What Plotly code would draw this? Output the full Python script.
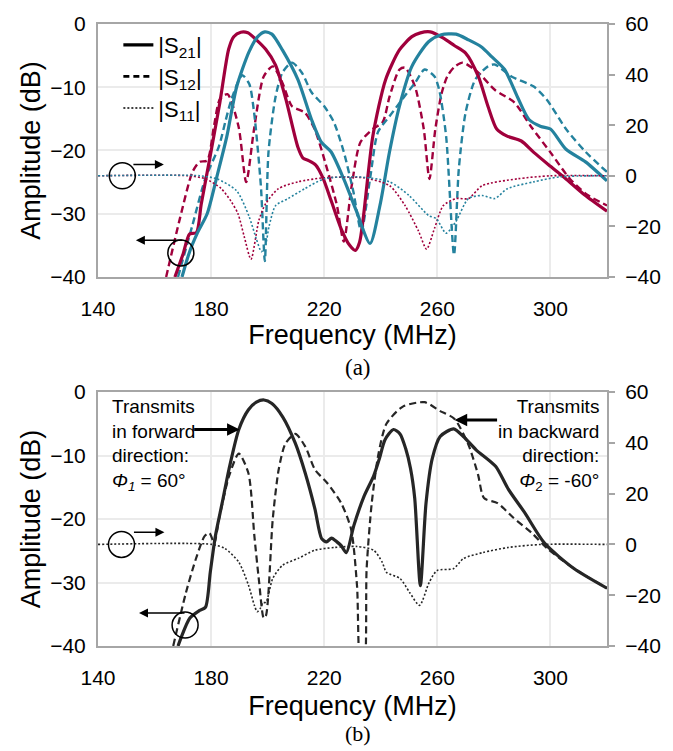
import plotly.graph_objects as go

# ---------------- (a) top panel ----------------
# red design (|S21| solid, |S12| dashed, |S11| dotted)
a_red_s21_f = [167.2, 170.0, 172.4, 174.8, 176.5, 179.3, 183.1, 186.2, 188.0, 190.5, 193.0, 196.0, 199.3, 202.8, 206.5, 210.7, 212.5, 214.5, 217.0, 219.5, 222.5, 225.9, 229.0, 231.0, 232.5, 233.8, 237.2, 241.7, 246.6, 251.0, 254.0, 257.5, 262.0, 266.0, 270.0, 274.5, 277.9, 281.0, 284.5, 289.7, 294.1, 300.0, 305.5, 312.0, 320.0]
a_red_s21_db = [-40, -36.5, -33.2, -33.0, -28.5, -21.8, -12.4, -4.0, -2.0, -1.3, -1.4, -2.5, -4.0, -6.5, -12.0, -19.5, -21.2, -21.6, -22.3, -24.3, -28.0, -32.3, -35.0, -35.8, -34.5, -30.7, -17.7, -8.8, -4.1, -2.0, -1.4, -1.25, -2.2, -3.4, -4.6, -8.3, -13.0, -16.6, -17.7, -18.5, -20.3, -22.5, -24.5, -27.0, -29.6]

a_red_s12_f = [164.1, 169.0, 173.4, 175.9, 178.6, 181.0, 183.1, 185.8, 189.7, 192.4, 195.2, 198.6, 201.8, 205.2, 208.6, 213.1, 216.6, 221.0, 224.5, 226.9, 229.7, 232.8, 237.2, 240.7, 243.1, 246.6, 248.6, 252.1, 255.2, 257.2, 259.3, 261.5, 263.5, 266.0, 269.0, 274.5, 280.3, 287.2, 293.1, 300.0, 306.9, 313.0, 320.0]
a_red_s12_db = [-40, -30.7, -23.4, -21.8, -21.6, -16.2, -11.9, -11.1, -16.2, -25.0, -16.6, -8.3, -6.7, -9.3, -13.0, -14.0, -16.6, -22.9, -28.7, -34.4, -25.6, -18.7, -16.6, -15.5, -11.5, -7.2, -6.9, -9.9, -16.6, -24.5, -16.6, -11.0, -8.3, -6.8, -6.1, -7.7, -10.4, -12.4, -16.2, -20.3, -24.5, -27.0, -28.7]

a_red_s11_f = [140, 172, 178, 183.5, 187, 189.5, 191.7, 194.1, 196.9, 199.3, 203.8, 210.7, 220, 233.8, 243.1, 248.6, 253.4, 256.2, 259, 262.1, 266.6, 271, 275.9, 288.3, 300, 320]
a_red_s11_val = [0, 0, -1.2, -5, -10, -15, -24, -33, -17.6, -11, -5.1, -2.4, -0.8, -0.8, -3.9, -11.8, -22, -29, -20.8, -11.8, -9, -9, -3.9, -1.2, 0, 0]

# teal design
a_teal_s21_f = [169.7, 172.4, 175.2, 178.6, 182.0, 185.5, 189.0, 193.4, 196.5, 199.0, 201.5, 205.2, 210.7, 215.5, 219.0, 222.4, 226.9, 231.4, 236.2, 239.7, 243.1, 246.6, 251.0, 256.9, 261.4, 266.6, 271.0, 275.5, 279.3, 283.8, 288.3, 292.4, 296.6, 300.0, 305.5, 312.4, 320.0]
a_teal_s21_db = [-40, -36, -33, -30, -24.2, -17.9, -10.0, -4.4, -2.0, -1.25, -1.6, -4.1, -8.8, -15.1, -18.7, -20.2, -24.5, -29.6, -34.7, -28.7, -20.2, -13.0, -6.7, -2.8, -1.7, -1.6, -2.5, -3.6, -5.2, -7.2, -11.5, -15.1, -16.2, -16.6, -19.8, -21.8, -24.8]

a_teal_s12_f = [168.3, 173.4, 177.9, 182.8, 185.0, 187.2, 191.0, 193.5, 195.2, 197.6, 199.0, 200.3, 202.8, 205.2, 208.6, 212.1, 215.5, 220.0, 223.4, 226.9, 230.3, 233.1, 236.2, 239.0, 243.1, 247.6, 252.1, 255.5, 259.0, 260.7, 263.1, 265.9, 267.6, 270.0, 273.4, 277.9, 280.3, 286.2, 294.1, 298.6, 305.5, 312.4, 320.0]
a_teal_s12_db = [-40, -31.8, -24.5, -19.3, -15.5, -11.9, -8.1, -9.5, -14.0, -25.6, -37.5, -20.2, -11.5, -7.7, -6.1, -7.7, -10.8, -13.0, -15.5, -20.2, -26.5, -32.8, -24.5, -17.1, -14.6, -11.9, -9.3, -7.2, -8.3, -10.5, -17.7, -36.5, -22.9, -14.0, -8.8, -6.7, -6.4, -8.3, -9.9, -11.9, -16.6, -20.2, -23.4]

a_teal_s11_f = [140, 176, 182, 189, 193.4, 196, 197.8, 199.3, 200.5, 202.8, 207.2, 213.1, 220, 231.4, 243.1, 250, 256.9, 259.7, 263.1, 266.6, 271, 275.9, 280.3, 284.8, 294.1, 303.4, 320]
a_teal_s11_val = [0, 0, -1.2, -5.9, -16, -25, -30, -27, -20, -11.8, -9, -5.1, -1.2, -0.4, -2.4, -7.8, -15.7, -17, -22.7, -18, -9, -7.8, -9, -5.1, -2.4, -0.4, 0]

# ---------------- (b) bottom panel ----------------
b_s21_f = [168.3, 172.5, 175.9, 178.0, 179.7, 181.5, 183.9, 186.3, 189.8, 193.2, 196.0, 198.7, 201.5, 205.3, 209.8, 213.3, 216.7, 219.1, 220.8, 222.6, 224.5, 226.0, 227.8, 230.5, 234.0, 237.5, 239.5, 241.5, 244.5, 246.8, 248.8, 250.5, 252.0, 254.0, 256.0, 258.2, 261.0, 265.8, 269.2, 273.7, 280.6, 285.1, 290.9, 297.9, 308.3, 320.0]
b_s21_db = [-40, -35.6, -34.4, -33.9, -28.4, -22.7, -17.5, -12.2, -5.9, -2.8, -1.6, -1.25, -1.8, -3.9, -8.1, -12.8, -18.4, -23.1, -23.6, -23.0, -23.6, -24.2, -25.3, -21.0, -16.5, -13.2, -10.5, -7.5, -5.9, -6.6, -8.9, -12.0, -16.7, -30.5, -17.5, -10.5, -7.0, -5.8, -7.0, -9.1, -11.7, -15.3, -19.0, -23.8, -27.8, -30.9]

b_s12_f = [166.6, 171.1, 174.6, 177.7, 179.4, 181.1, 182.8, 186.3, 189.8, 193.2, 195.3, 197.0, 198.6, 199.4, 201.8, 203.9, 206.3, 209.8, 213.3, 216.7, 221.2, 226.0, 229.5, 231.6, 233.0, 234.0, 235.0, 236.8, 239.2, 242.0, 247.8, 255.5, 261.0, 266.0, 271.0, 274.4, 276.5, 281.3, 286.9, 293.4, 299.0, 308.3, 320.0]
b_s12_db = [-40, -31.6, -26.3, -22.7, -22.2, -23.8, -20.0, -13.3, -9.7, -12.8, -22.7, -30.0, -35.6, -35.2, -20.0, -12.2, -8.1, -6.6, -8.6, -12.2, -14.4, -17.5, -21.6, -30.5, -44, -44, -27.8, -17.5, -9.7, -5.0, -2.3, -1.6, -3.0, -4.2, -8.3, -13.0, -16.7, -17.5, -19.8, -22.2, -24.7, -27.8, -30.9]

b_s11_f = [140, 180.4, 184.9, 189.8, 193.2, 195.3, 196.3, 197.5, 198.3, 199.4, 201.8, 205.3, 210.8, 216.7, 223.6, 231.6, 237.5, 240.5, 242, 246.8, 250.2, 253.7, 257.1, 259.9, 265.8, 269.2, 276.1, 285.1, 296.9, 320]
b_s11_val = [0, 0, -1.6, -7, -16, -24, -26.5, -25, -23, -22.8, -13.4, -8.2, -5.5, -2.3, -1.2, -0.8, -2.3, -7, -11, -13.4, -18.9, -24, -15, -10.3, -9.5, -5.6, -3.2, -1.2, 0, 0]

x_ticks = [140, 180, 220, 260, 300]
left_ticks = [0, -10, -20, -30, -40]
right_ticks = [60, 40, 20, 0, -20, -40]
legend_names = ["|S<sub>21</sub>|", "|S<sub>12</sub>|", "|S<sub>11</sub>|"]

RED = "#A0003C"
TEAL = "#24829E"
DARK = "#262626"
FONT = "Liberation Sans, Arial, sans-serif"
GRID = "#ebebeb"
AX = "#a6a6a6"

fig = go.Figure()

def add(f, v, xa, ya, color, width, dash):
    fig.add_trace(go.Scatter(x=f, y=v, xaxis=xa, yaxis=ya, mode="lines",
                             line=dict(color=color, width=width, dash=dash, shape="spline", smoothing=0.7),
                             showlegend=False, hoverinfo="skip"))

DASH = "7px,4px"
DOT = "2px,2px"
# top panel
add(a_red_s11_f, a_red_s11_val, "x", "y2", RED, 1.6, DOT)
add(a_teal_s11_f, a_teal_s11_val, "x", "y2", TEAL, 1.6, DOT)
add(a_red_s12_f, a_red_s12_db, "x", "y", RED, 2.4, DASH)
add(a_teal_s12_f, a_teal_s12_db, "x", "y", TEAL, 2.4, DASH)
add(a_red_s21_f, a_red_s21_db, "x", "y", RED, 3.2, "solid")
add(a_teal_s21_f, a_teal_s21_db, "x", "y", TEAL, 3.2, "solid")
# bottom panel
add(b_s11_f, b_s11_val, "x2", "y4", DARK, 1.6, DOT)
add(b_s12_f, b_s12_db, "x2", "y3", DARK, 2.2, DASH)
add(b_s21_f, b_s21_db, "x2", "y3", DARK, 3.2, "solid")

# legend entries (top panel)
for name, dash, w in zip(legend_names, ["solid", "6px,4px", "2px,2px"], [3.2, 2.6, 1.6]):
    fig.add_trace(go.Scatter(x=[None], y=[None], xaxis="x", yaxis="y", mode="lines",
                             name=name, line=dict(color="black", width=w, dash=dash)))

def xaxis_cfg(standoff):
    return dict(range=[140, 320], tickvals=x_ticks, showgrid=True, gridcolor=GRID, gridwidth=1.5,
                showline=True, mirror=True, linecolor=AX, linewidth=2, zeroline=False,
                ticks="", ticklabelstandoff=12, tickfont=dict(size=21, family=FONT, color="black"),
                title=dict(text="Frequency (MHz)", font=dict(size=27, family=FONT, color="black"), standoff=standoff))

yleft = dict(range=[-40, 0], tickvals=left_ticks, showgrid=True, gridcolor=GRID, gridwidth=1.5,
             showline=True, linecolor=AX, linewidth=2, zeroline=False, ticks="",
             ticklabelstandoff=6, tickfont=dict(size=21, family=FONT, color="black"),
             title=dict(text="Amplitude (dB)", font=dict(size=27, family=FONT, color="black"), standoff=2))
yright = dict(range=[-40, 60], tickvals=right_ticks, showgrid=False, side="right",
              showline=True, linecolor=AX, linewidth=2, zeroline=False,
              ticks="outside", ticklen=6, tickcolor=AX, tickwidth=1.5, ticklabelstandoff=6,
              tickfont=dict(size=21, family=FONT, color="black"))

top_dom = [0.5933, 1.0]
bot_dom = [0.0, 0.4083]

fig.update_layout(
    width=673, height=751,
    margin=dict(l=98, r=53, t=19, b=105),
    paper_bgcolor="white", plot_bgcolor="white",
    xaxis=dict(xaxis_cfg(6), anchor="y"),
    yaxis=dict(yleft, domain=top_dom, anchor="x"),
    yaxis2=dict(yright, domain=top_dom, anchor="x", overlaying="y"),
    xaxis2=dict(xaxis_cfg(8), anchor="y3"),
    yaxis3=dict(yleft, domain=bot_dom, anchor="x2"),
    yaxis4=dict(yright, domain=bot_dom, anchor="x2", overlaying="y3"),
    legend=dict(x=0.04, y=1.0, xanchor="left", yanchor="top", bgcolor="rgba(0,0,0,0)",
                font=dict(size=22, family=FONT, color="black"), tracegroupgap=0),
    showlegend=True,
)

# circles marking axis association
def circle(xref, yref, xc, yc, r=13):
    fig.add_shape(type="circle", xref=xref, yref=yref, xsizemode="pixel", ysizemode="pixel",
                  xanchor=xc, yanchor=yc, x0=-r, x1=r, y0=-r, y1=r,
                  line=dict(color="black", width=1.5), fillcolor="rgba(0,0,0,0)")

def arrow(xref, yref, x, y, ax, width=1.5, size=1.2):
    fig.add_annotation(xref=xref, yref=yref, x=x, y=y, ax=ax, ay=0, axref="pixel", ayref="pixel",
                       text="", showarrow=True, arrowhead=2, arrowsize=size, arrowwidth=width,
                       arrowcolor="black")

circle("x", "y2", 148.6, 0)
arrow("x", "y2", 163.3, 4.5, -32)
circle("x", "y", 169.3, -36.2)
arrow("x", "y", 153.4, -34.2, 48)

circle("x2", "y4", 148.3, 0)
arrow("x2", "y4", 163.5, 4.8, -32)
circle("x2", "y3", 170.8, -36.7)
arrow("x2", "y3", 154.5, -34.8, 47)

# bottom text callouts
fig.add_annotation(xref="x2", yref="y3", x=144.1, y=-8.4, xanchor="left", yanchor="middle", align="left",
                   showarrow=False, font=dict(size=19, family=FONT, color="black"),
                   text="Transmits<br>in forward<br>direction:<br><i>Φ</i><sub><i>1</i></sub> = 60°")
arrow("x2", "y3", 190.1, -5.9, -47, width=2.8, size=0.9)
fig.add_annotation(xref="x2", yref="y3", x=318.0, y=-8.4, xanchor="right", yanchor="middle", align="right",
                   showarrow=False, font=dict(size=19, family=FONT, color="black"),
                   text="Transmits<br>in backward<br>direction:<br><i>Φ</i><sub>2</sub> = -60°")
arrow("x2", "y3", 266.1, -4.4, 44, width=2.8, size=0.9)

# panel labels
SERIF = "Liberation Serif, Times New Roman, serif"
fig.add_annotation(xref="paper", yref="paper", x=0.511, y=0.448, xanchor="center", yanchor="middle",
                   showarrow=False, text="(a)", font=dict(size=23, family=SERIF, color="black"))
fig.add_annotation(xref="paper", yref="paper", x=0.511, y=-0.1645, xanchor="center", yanchor="bottom",
                   showarrow=False, text="(b)", font=dict(size=22, family=SERIF, color="black"))

fig.write_html("out.html")
